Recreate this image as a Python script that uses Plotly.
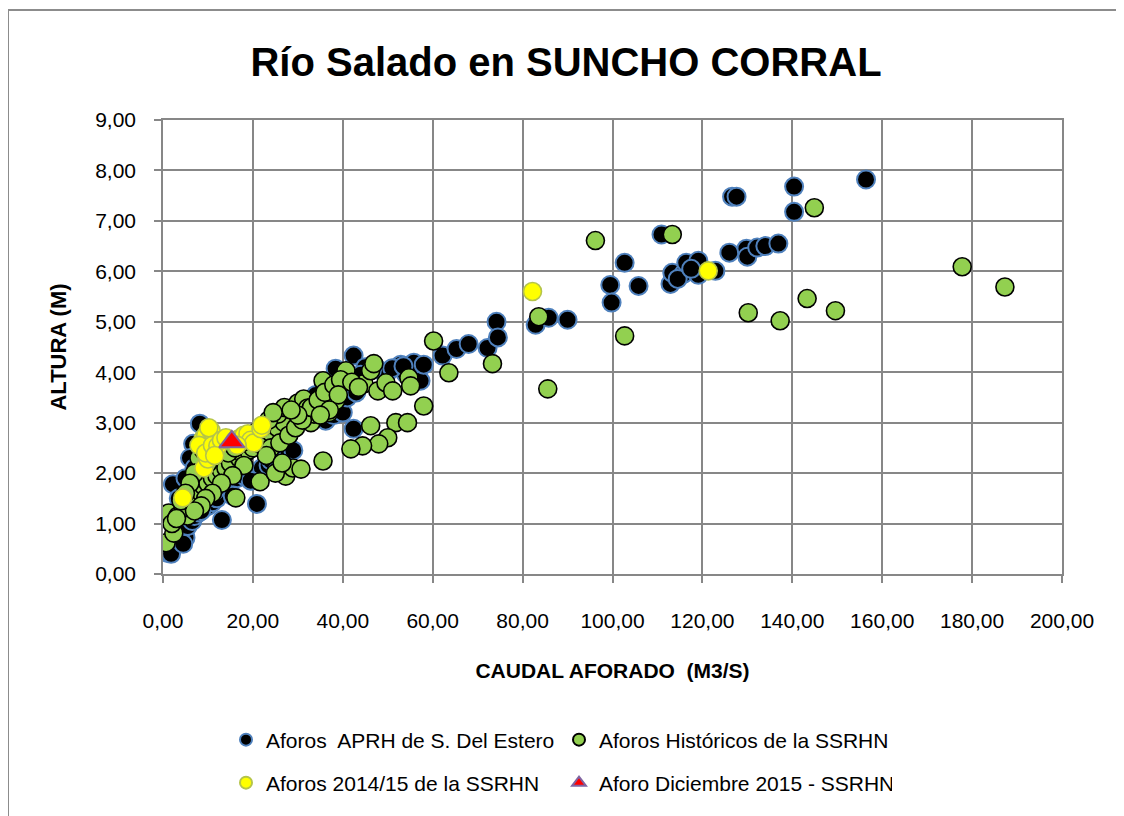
import plotly.graph_objects as go

# ---- data (caudal m3/s, altura m) ----
aprh_q = [1.0, 1.5, 2.0, 3.0, 5.0, 4.0, 5.5, 6.5, 7.0, 8.0, 9.0, 10.0, 11.0, 12.0, 13.1,
          7.5, 9.5, 11.5, 13.5, 15.0, 16.5, 18.0, 20.9, 20.5, 22.0, 23.5, 24.0, 26.0, 27.0,
          28.0, 29.0, 2.2, 3.5, 6.7, 8.2, 6.0, 7.0, 5.0, 10.5, 12.5, 14.0, 16.0, 18.5, 21.0,
          23.0, 25.0, 27.5, 30.0, 32.0, 34.0, 36.2, 38.0, 40.0, 42.4, 41.0, 43.0, 38.4, 42.4,
          45.0, 48.0, 50.0, 52.9, 54.0, 55.8, 57.3, 58.0, 36.0, 34.0, 32.0, 30.0, 28.0, 62.2,
          65.3, 68.0, 72.2, 74.2, 74.5, 82.9, 85.8, 90.0, 99.5, 99.8, 102.7, 105.8, 110.9,
          112.9, 113.3, 115.8, 116.4, 119.1, 119.1, 122.9, 114.5, 117.5, 126.0, 129.8, 130.0,
          132.2, 134.0, 136.9, 126.6, 127.6, 140.4, 140.4, 156.4, 1.8, 4.5, 8.5, 15.5, 19.5,
          25.5, 44.0, 46.5, 51.0, 53.5]
aprh_h = [0.42, 0.48, 0.55, 0.68, 0.72, 0.85, 0.95, 1.05, 1.15, 1.22, 1.30, 1.35, 1.42, 1.50, 1.07,
          1.40, 1.55, 1.65, 1.75, 1.80, 1.90, 1.95, 1.39, 2.00, 2.10, 2.15, 2.25, 2.30, 2.25,
          2.40, 2.45, 1.78, 1.50, 2.58, 2.98, 2.30, 2.10, 1.90, 2.00, 2.20, 2.35, 2.45, 2.55, 2.65,
          2.75, 2.85, 2.95, 3.05, 3.10, 3.20, 3.04, 3.15, 3.20, 2.88, 3.50, 3.60, 4.07, 4.33,
          4.10, 4.05, 4.00, 4.15, 3.97, 4.19, 3.83, 4.15, 3.70, 3.55, 3.40, 3.30, 3.20, 4.33,
          4.46, 4.56, 4.48, 5.00, 4.69, 4.94, 5.08, 5.04, 5.73, 5.38, 6.17, 5.71, 6.73,
          5.75, 5.97, 5.95, 6.17, 6.21, 5.93, 6.01, 5.85, 6.05, 6.37, 6.45, 6.29,
          6.47, 6.50, 6.55, 7.48, 7.48, 7.68, 7.18, 7.82, 0.40, 0.60, 1.25, 1.55, 1.85,
          2.05, 3.95, 4.05, 4.08, 4.12]

hist_q = [0.7, 2.4, 1.3, 3.3, 5.5, 4.5, 6.0, 7.0, 8.0, 9.0, 10.0, 11.0, 12.0, 13.0, 14.0, 15.0,
          16.2, 17.0, 18.0, 19.0, 20.0, 21.6, 21.0, 22.5, 24.0, 25.5, 27.0, 25.6, 27.0, 27.3,
          28.9, 30.7, 30.0, 31.3, 32.2, 32.9, 33.6, 35.6, 35.6, 36.9, 37.8, 38.4, 40.7, 40.7,
          44.7, 46.2, 46.9, 47.8, 49.6, 51.1, 54.7, 55.1, 60.2, 63.6, 73.3, 46.2, 51.8, 54.4,
          50.0, 48.0, 44.4, 41.8, 58.0, 83.6, 85.6, 96.2, 102.7, 113.3, 130.2, 137.3, 143.3,
          144.9, 149.6, 177.8, 187.3, 8.0, 9.0, 10.0, 11.5, 12.5, 13.5, 7.0, 6.0, 5.0, 4.0,
          14.5, 16.0, 17.5, 19.0, 20.5, 22.0, 23.5, 18.0, 15.5, 13.0, 11.0, 9.5, 8.5, 7.0,
          24.0, 26.0, 28.0, 29.5, 31.0, 33.0, 34.5, 36.0, 38.0, 39.5, 42.0, 43.5, 39.0, 37.0,
          35.0, 30.0, 28.5, 24.5, 23.0, 25.0, 26.5, 2.0, 3.0]
hist_h = [0.62, 0.81, 1.21, 1.15, 1.15, 1.30, 1.45, 1.55, 1.65, 1.75, 1.80, 1.90, 1.95, 2.05, 2.10, 2.20,
          1.51, 2.30, 2.35, 2.45, 2.50, 1.83, 2.60, 2.70, 2.80, 2.90, 3.00, 3.17, 3.30, 1.94,
          2.10, 2.08, 3.39, 3.47, 3.29, 3.00, 3.17, 3.83, 2.24, 3.20, 3.67, 3.43, 3.89, 4.03,
          3.77, 4.03, 4.17, 3.63, 3.79, 3.63, 3.89, 3.73, 4.62, 3.99, 4.17, 2.94, 3.00, 3.00,
          2.70, 2.58, 2.54, 2.48, 3.33, 5.10, 3.67, 6.61, 4.72, 6.73, 5.18, 5.02, 5.46,
          7.26, 5.22, 6.09, 5.69, 2.30, 2.45, 2.20, 2.35, 2.50, 2.60, 2.00, 1.80, 1.60, 1.45,
          2.40, 2.50, 2.60, 2.70, 2.80, 2.90, 3.05, 2.15, 1.95, 1.80, 1.60, 1.50, 1.35, 1.25,
          2.50, 2.60, 2.75, 2.90, 3.05, 3.30, 3.45, 3.60, 3.75, 3.85, 3.80, 3.70, 3.55, 3.25,
          3.15, 3.15, 3.25, 3.20, 2.35, 2.00, 2.20, 1.00, 1.10]

y1415_q = [4.4, 8.9, 9.5, 10.7, 10.2, 8.0, 9.1, 10.0, 9.5, 11.0, 12.2, 13.0, 14.0, 16.0, 17.3,
           18.0, 18.9, 19.5, 20.2, 21.8, 22.0, 16.5, 11.5, 82.2, 121.3]
y1415_h = [1.51, 2.68, 2.75, 2.84, 2.90, 2.55, 2.10, 2.28, 2.40, 2.55, 2.54, 2.65, 2.70, 2.65, 2.70,
           2.75, 2.78, 2.65, 2.60, 2.88, 2.95, 2.55, 2.35, 5.60, 6.01]

dic15_q = [15.3]
dic15_h = [2.62]

x_ticks = [0, 20, 40, 60, 80, 100, 120, 140, 160, 180, 200]
y_ticks = [0, 1, 2, 3, 4, 5, 6, 7, 8, 9]

FONT = "Liberation Sans, Arial, sans-serif"
GRID = "#878787"

# page has an 8px body margin: figure origin sits at page pixel (8, 8)
OFF = 8
PL, PR, PT, PB = 163, 1062, 120, 574   # plot area in page pixels
W, H = 1124 - OFF, 816 - OFF

fig = go.Figure()
fig.add_trace(go.Scatter(
    x=aprh_q, y=aprh_h, mode="markers", name="Aforos  APRH de S. Del Estero",
    marker=dict(size=18, color="#000000", line=dict(color="#4f81bd", width=2)),
    legend="legend"))
fig.add_trace(go.Scatter(
    x=hist_q, y=hist_h, mode="markers", name="Aforos Históricos de la SSRHN",
    marker=dict(size=18, color="#92d050", line=dict(color="#000000", width=1.6)),
    legend="legend"))
fig.add_trace(go.Scatter(
    x=y1415_q, y=y1415_h, mode="markers", name="Aforos 2014/15 de la SSRHN",
    marker=dict(size=18, color="#ffff00", line=dict(color="#b5c44a", width=1.6)),
    legend="legend2"))
fig.add_trace(go.Scatter(
    x=dic15_q, y=dic15_h, mode="markers", name="Aforo Diciembre 2015 - SSRHN",
    marker=dict(size=22, symbol="triangle-up", color="#ff0000",
                line=dict(color="#8064a2", width=2)),
    legend="legend2"))

axis_common = dict(
    showgrid=True, gridcolor=GRID, gridwidth=1.5, zeroline=False,
    showline=True, linecolor=GRID, linewidth=1.5, mirror=True,
    ticks="outside", ticklen=7, tickcolor=GRID, tickwidth=1.5,
    tickformat=".2f", tickfont=dict(family=FONT, size=21, color="#000000"),
)

pw = PR - PL
ph = PB - PT


def px_x(p):
    return (p - PL) / pw


def px_y(p):
    return (PB - p) / ph


fig.update_layout(
    width=W, height=H,
    margin=dict(l=PL - OFF, r=(W + OFF) - PR, t=PT - OFF, b=(H + OFF) - PB),
    paper_bgcolor="white", plot_bgcolor="white",
    separators=",.",
    font=dict(family=FONT, color="#000000"),
    title=dict(text="<b>Río Salado en SUNCHO CORRAL</b>", x=0.5, xanchor="center",
               y=1 - (62 - OFF) / H, yanchor="middle",
               font=dict(family=FONT, size=40, color="#000000")),
    xaxis=dict(range=[0, 200], tickvals=x_ticks, ticklabelstandoff=20,
               title=dict(text="<b>CAUDAL AFORADO  (M3/S)</b>", standoff=32,
                          font=dict(family=FONT, size=21)),
               **axis_common),
    yaxis=dict(range=[0, 9], tickvals=y_ticks, ticklabelstandoff=14,
               title=dict(text="<b>ALTURA (M)</b>", standoff=22,
                          font=dict(family=FONT, size=22)),
               **axis_common),
    legend=dict(orientation="h", x=px_x(226), y=px_y(740), xanchor="left", yanchor="middle",
                font=dict(family=FONT, size=21), entrywidth=288, entrywidthmode="pixels",
                itemsizing="constant", bgcolor="rgba(0,0,0,0)", traceorder="normal"),
    legend2=dict(orientation="h", x=px_x(226), y=px_y(783), xanchor="left", yanchor="middle",
                 font=dict(family=FONT, size=21), entrywidth=288, entrywidthmode="pixels",
                 itemsizing="constant", bgcolor="rgba(0,0,0,0)", traceorder="normal"),
    shapes=[
        dict(type="line", xref="paper", yref="paper",
             x0=px_x(8), x1=px_x(1124), y0=px_y(10), y1=px_y(10),
             line=dict(color="#8c8c8c", width=2), layer="below"),
        dict(type="line", xref="paper", yref="paper",
             x0=px_x(8), x1=px_x(8), y0=px_y(10), y1=px_y(816),
             line=dict(color="#8c8c8c", width=2), layer="below"),
    ],
    showlegend=True,
)

fig.write_html("out.html")
